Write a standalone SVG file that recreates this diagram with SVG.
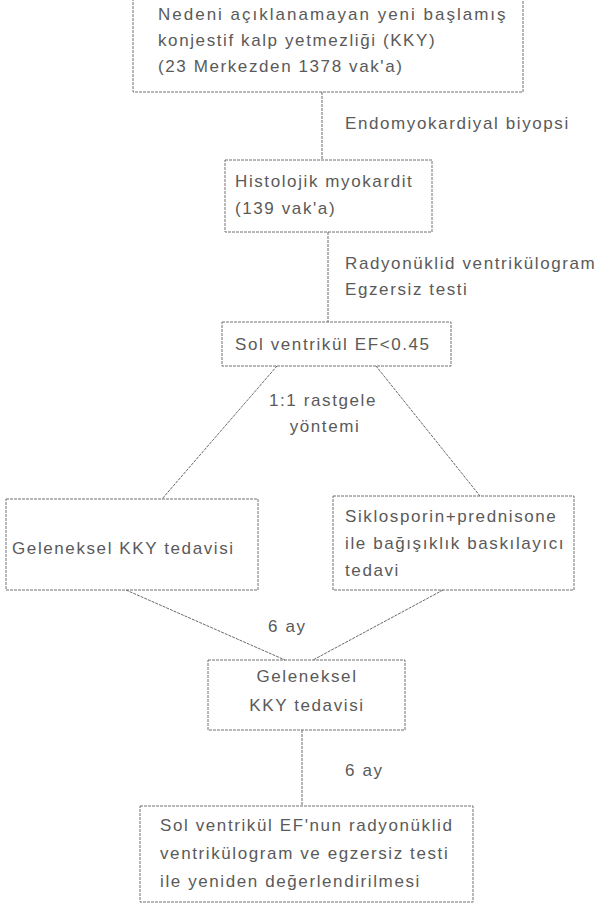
<svg xmlns="http://www.w3.org/2000/svg" width="604" height="908" viewBox="0 0 604 908">
<style>
.box{fill:none;stroke:#707070;stroke-width:1;stroke-dasharray:3 1}
.ln{fill:none;stroke:#6a6a6a;stroke-width:1;stroke-dasharray:3 1}
.t{font-family:"Liberation Sans",Arial,sans-serif;font-size:17px;fill:#5a5a5a;letter-spacing:1.6px}
.m{text-anchor:middle}
</style>
<rect width="604" height="908" fill="#ffffff"/>
<g id="connectors">
<line class="ln" x1="322" y1="92" x2="322" y2="160"/>
<line class="ln" x1="328" y1="232" x2="328" y2="322"/>
<line class="ln" x1="277" y1="366" x2="162" y2="499"/>
<line class="ln" x1="376" y1="366" x2="480" y2="496"/>
<line class="ln" x1="126" y1="590" x2="285" y2="660"/>
<line class="ln" x1="443" y1="590" x2="313" y2="660"/>
<line class="ln" x1="302" y1="730" x2="302" y2="806"/>
<text class="t" x="345" y="129">Endomyokardiyal biyopsi</text>
<text class="t" x="345" y="269">Radyonüklid ventrikülogram</text>
<text class="t" x="345" y="295">Egzersiz testi</text>
<text class="t m" x="323" y="406">1:1 rastgele</text>
<text class="t m" x="325" y="432">yöntemi</text>
<text class="t" x="268" y="632">6 ay</text>
<text class="t" x="345" y="776">6 ay</text>
</g>
<g id="n1">
<rect class="box" x="133" y="-1" width="390" height="93"/>
<text class="t" x="158" y="20" style="letter-spacing:2px">Nedeni açıklanamayan yeni başlamış</text>
<text class="t" x="158" y="46">konjestif kalp yetmezliği (KKY)</text>
<text class="t" x="158" y="72">(23 Merkezden 1378 vak'a)</text>
</g>
<g id="n2">
<rect class="box" x="225" y="160" width="207" height="72"/>
<text class="t" x="235" y="187">Histolojik myokardit</text>
<text class="t" x="235" y="214">(139 vak'a)</text>
</g>
<g id="n3">
<rect class="box" x="222" y="322" width="229" height="44"/>
<text class="t" x="235" y="350">Sol ventrikül EF&lt;0.45</text>
</g>
<g id="n4">
<rect class="box" x="6" y="499" width="252" height="91"/>
<text class="t" x="12" y="554">Geleneksel KKY tedavisi</text>
</g>
<g id="n5">
<rect class="box" x="333" y="496" width="241" height="94"/>
<text class="t" x="345" y="522">Siklosporin+prednisone</text>
<text class="t" x="345" y="549">ile bağışıklık baskılayıcı</text>
<text class="t" x="345" y="576">tedavi</text>
</g>
<g id="n6">
<rect class="box" x="208" y="660" width="197" height="70"/>
<text class="t m" x="307" y="682">Geleneksel</text>
<text class="t m" x="307" y="711">KKY tedavisi</text>
</g>
<g id="n7">
<rect class="box" x="140" y="806" width="333" height="96"/>
<text class="t" x="160" y="831">Sol ventrikül EF'nun radyonüklid</text>
<text class="t" x="160" y="859">ventrikülogram ve egzersiz testi</text>
<text class="t" x="160" y="887">ile yeniden değerlendirilmesi</text>
</g>
</svg>
